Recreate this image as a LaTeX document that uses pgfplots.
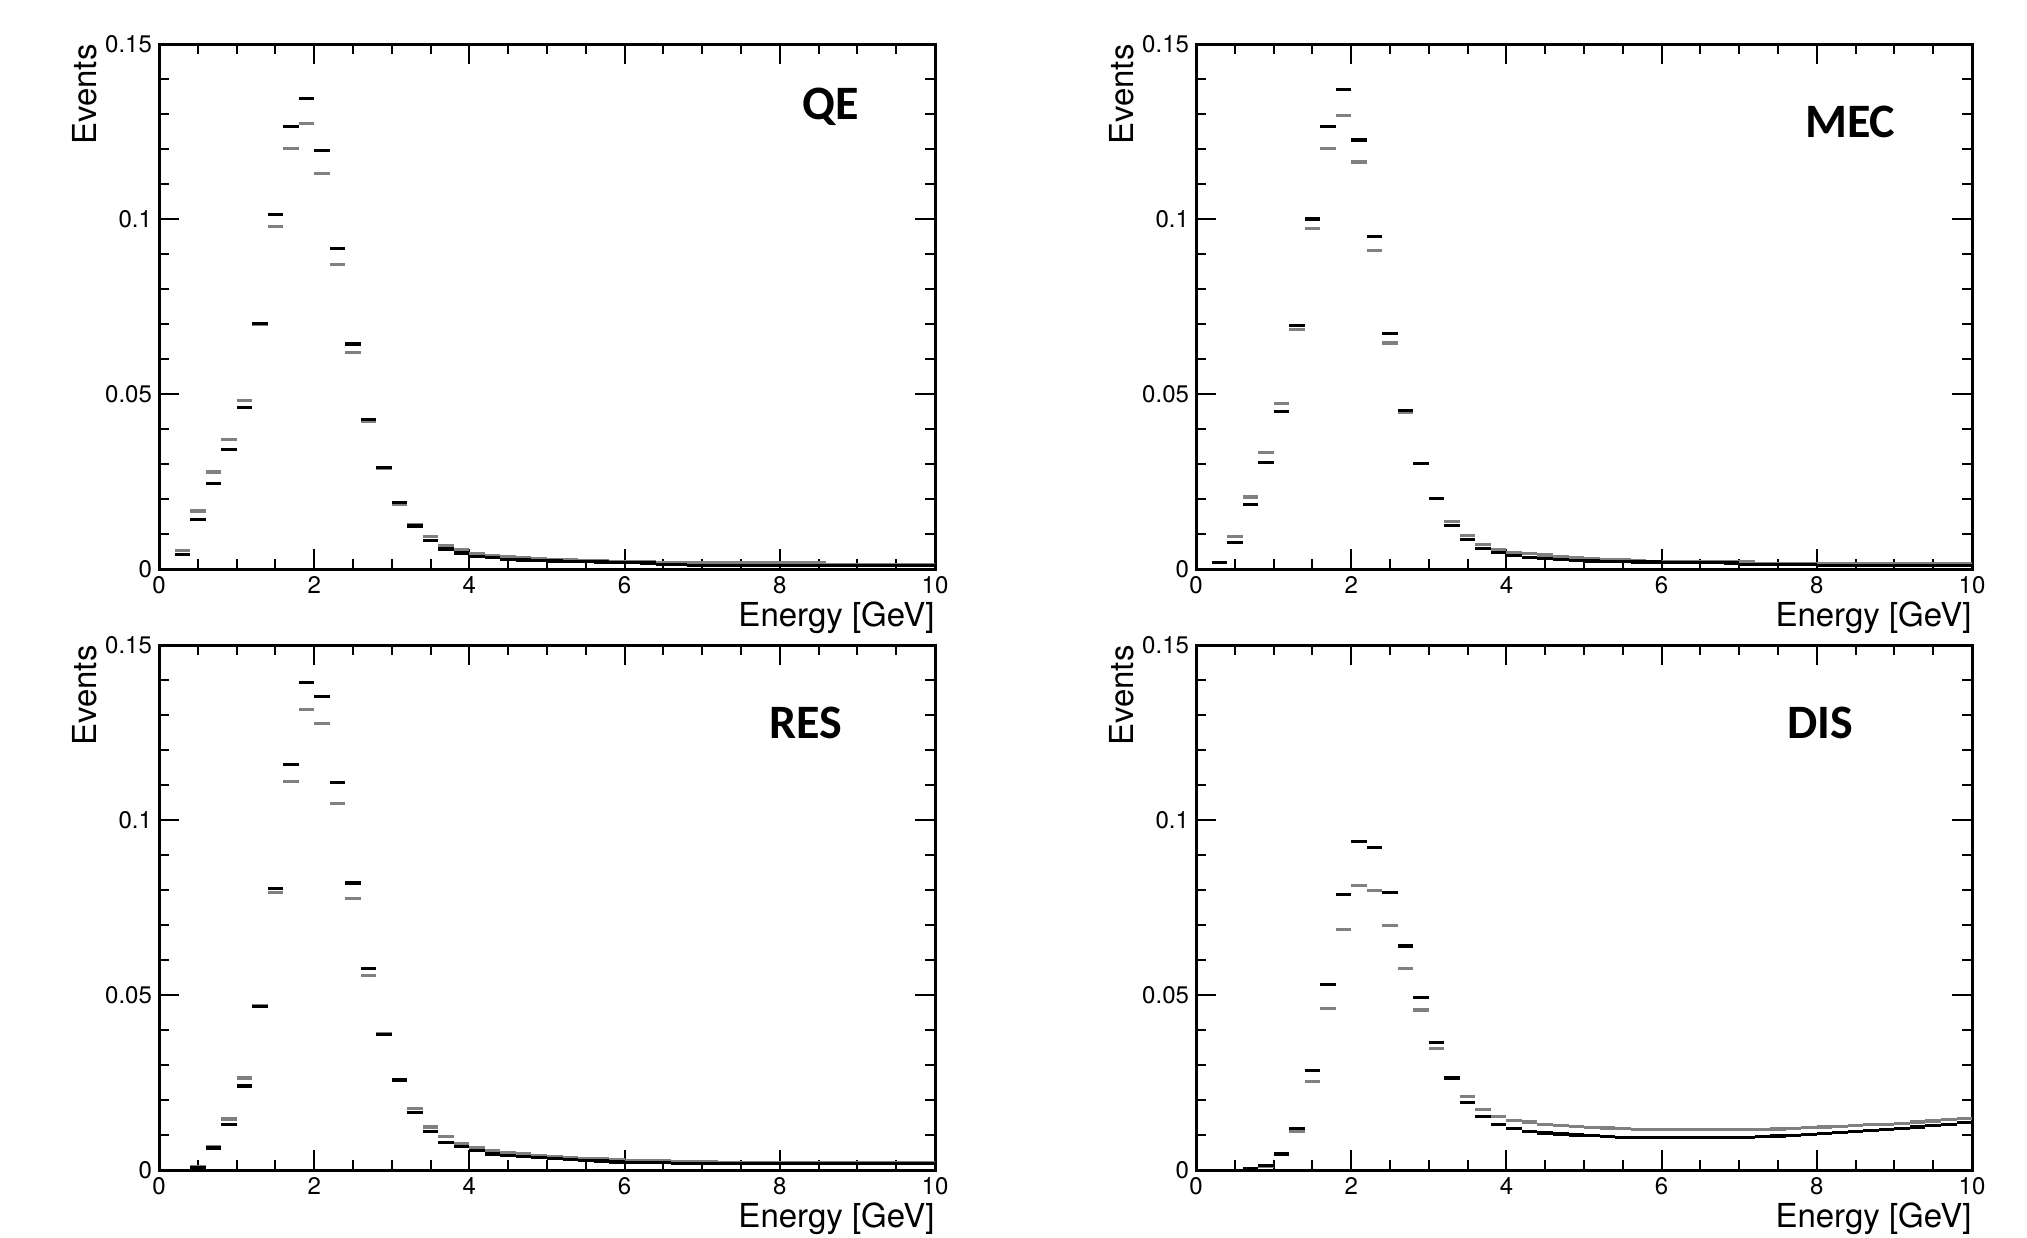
\documentclass[border=0pt]{standalone}
\usepackage{fontspec}
\setmainfont{TeX Gyre Heros}
\newfontfamily\titlefont{Carlito}
\usepackage{pgfplots}
\usepackage{pgfplotstable}
\pgfplotsset{compat=1.18}

% x = bin centre (0.2 GeV bins), b = black histogram, g = gray histogram
\pgfplotstableread{
x b g
0.3 .0041 .0053
0.5 .0141 .0166
0.7 .0245 .0277
0.9 .0342 .0370
1.1 .0462 .0482
1.3 .0701 .0699
1.5 .1012 .0979
1.7 .1265 .1201
1.9 .1345 .1273
2.1 .1196 .1129
2.3 .0915 .0870
2.5 .0643 .0619
2.7 .0427 .0422
2.9 .0289 .0287
3.1 .0189 .0186
3.3 .0123 .0127
3.5 .0081 .0092
3.7 .0057 .0068
3.9 .0046 .0055
4.1 .0036 .0044
4.3 .0032 .0039
4.5 .0028 .0035
4.7 .0026 .0032
4.9 .0024 .0030
5.1 .0023 .0028
5.3 .0022 .0026
5.5 .0021 .0025
5.7 .0020 .0024
5.9 .0019 .0022
6.1 .0018 .0021
6.3 .0017 .0020
6.5 .0012 .0019
6.7 .0012 .0018
6.9 .0011 .0018
7.1 .0011 .0017
7.3 .0011 .0017
7.5 .0011 .0017
7.7 .0011 .0017
7.9 .0011 .0017
8.1 .0011 .0017
8.3 .0011 .0017
8.5 .0011 .0017
8.7 .0010 .0012
8.9 .0010 .0012
9.1 .0010 .0012
9.3 .0010 .0012
9.5 .0010 .0012
9.7 .0010 .0012
9.9 .0010 .0012
}\qe

\pgfplotstableread{
x b g
0.3 .0019 .0018
0.5 .0076 .0093
0.7 .0184 .0206
0.9 .0305 .0333
1.1 .0450 .0474
1.3 .0696 .0685
1.5 .1000 .0972
1.7 .1264 .1201
1.9 .1369 .1295
2.1 .1226 .1163
2.3 .0950 .0911
2.5 .0674 .0646
2.7 .0454 .0447
2.9 .0302 .0302
3.1 .0201 .0201
3.3 .0125 .0136
3.5 .0085 .0096
3.7 .0059 .0070
3.9 .0048 .0055
4.1 .0039 .0047
4.3 .0034 .0044
4.5 .0031 .0040
4.7 .0028 .0036
4.9 .0025 .0032
5.1 .0023 .0030
5.3 .0021 .0028
5.5 .0021 .0026
5.7 .0020 .0024
5.9 .0020 .0022
6.1 .0018 .0020
6.3 .0018 .0020
6.5 .0018 .0020
6.7 .0018 .0020
6.9 .0017 .0020
7.1 .0012 .0020
7.3 .0012 .0016
7.5 .0012 .0016
7.7 .0012 .0016
7.9 .0012 .0016
8.1 .0011 .0016
8.3 .0011 .0016
8.5 .0011 .0016
8.7 .0011 .0016
8.9 .0011 .0016
9.1 .0011 .0016
9.3 .0011 .0016
9.5 .0011 .0016
9.7 .0011 .0016
9.9 .0011 .0016
}\mec

\pgfplotstableread{
x b g
0.5 .0008 .0010
0.7 .0063 .0067
0.9 .0130 .0146
1.1 .0240 .0263
1.3 .0467 .0471
1.5 .0804 .0793
1.7 .1159 .1111
1.9 .1393 .1316
2.1 .1352 .1276
2.3 .1107 .1047
2.5 .0820 .0776
2.7 .0575 .0555
2.9 .0388 .0390
3.1 .0257 .0259
3.3 .0164 .0175
3.5 .0110 .0123
3.7 .0078 .0095
3.9 .0067 .0076
4.1 .0055 .0065
4.3 .0046 .0056
4.5 .0041 .0050
4.7 .0038 .0046
4.9 .0035 .0042
5.1 .0032 .0039
5.3 .0030 .0036
5.5 .0028 .0034
5.7 .0026 .0032
5.9 .0023 .0030
6.1 .0022 .0028
6.3 .0022 .0027
6.5 .0021 .0026
6.7 .0018 .0024
6.9 .0018 .0024
7.1 .0018 .0024
7.3 .0018 .0020
7.5 .0018 .0020
7.7 .0018 .0020
7.9 .0018 .0020
8.1 .0018 .0020
8.3 .0018 .0020
8.5 .0018 .0020
8.7 .0018 .0020
8.9 .0018 .0020
9.1 .0018 .0020
9.3 .0018 .0020
9.5 .0018 .0020
9.7 .0018 .0020
9.9 .0018 .0020
}\res

\pgfplotstableread{
x b g
0.7 .0003 .0002
0.9 .0014 .0010
1.1 .0046 .0046
1.3 .0118 .0109
1.5 .0285 .0254
1.7 .0529 .0462
1.9 .0788 .0687
2.1 .0939 .0813
2.3 .0921 .0799
2.5 .0792 .0699
2.7 .0640 .0576
2.9 .0494 .0457
3.1 .0365 .0348
3.3 .0263 .0263
3.5 .0192 .0209
3.7 .0152 .0172
3.9 .0130 .0152
4.1 .0119 .0142
4.3 .0111 .0137
4.5 .0106 .0131
4.7 .0103 .0127
4.9 .0100 .0124
5.1 .0098 .0122
5.3 .0096 .0120
5.5 .0094 .0118
5.7 .0093 .0116
5.9 .0092 .0115
6.1 .0092 .0115
6.3 .0092 .0115
6.5 .0092 .0115
6.7 .0092 .0115
6.9 .0092 .0115
7.1 .0093 .0115
7.3 .0095 .0116
7.5 .0097 .0117
7.7 .0099 .0119
7.9 .0101 .0121
8.1 .0104 .0123
8.3 .0107 .0125
8.5 .0110 .0127
8.7 .0113 .0129
8.9 .0116 .0131
9.1 .0119 .0134
9.3 .0123 .0137
9.5 .0127 .0140
9.7 .0131 .0144
9.9 .0135 .0148
}\dis

\pgfplotsset{
  rootpad/.style={
    width=388pt, height=262.5pt, scale only axis,
    anchor=north west,
    xmin=0, xmax=10, ymin=0, ymax=0.15,
    xtick={0,2,...,10},
    ytick={0,0.05,0.1,0.15}, yticklabels={0,0.05,0.1,0.15},
    minor x tick num=3, minor y tick num=4,
    tick align=inside,
    major tick length=10pt, minor tick length=5pt,
    every tick/.style={line width=1pt, black},
    axis line style={line width=1.5pt},
    tick label style={font=\fontsize{12}{14}\selectfont},
    /pgf/number format/assume math mode=true,
    xlabel={Energy [GeV]},
    ylabel={Events},
    label style={font=\fontsize{16.5}{18}\selectfont, inner sep=0pt},
    xlabel style={at={(axis description cs:1,0)}, anchor=north east, yshift=-16pt},
    ylabel style={at={(axis description cs:-0.080,1)}, anchor=south east},
  },
  % one horizontal dash per 0.2 GeV bin
  hgr/.style={draw=none, mark=none, error bars/.cd, x dir=both, x fixed=0.1,
    error mark=none, error bar style={draw=black!50, line width=1.6pt}},
  hbk/.style={draw=none, mark=none, error bars/.cd, x dir=both, x fixed=0.1,
    error mark=none, error bar style={draw=black, line width=1.6pt}},
}
\tikzset{ptitle/.style={anchor=base, font=\titlefont\bfseries\fontsize{24}{28}\selectfont}}

\begin{document}
\begin{tikzpicture}
\path[use as bounding box] (0,0) rectangle (1013.5pt,-618.5pt);

% QE
\begin{axis}[rootpad, at={(79.5pt,-22pt)}]
  \addplot[hgr] table[x=x, y=g] {\qe};
  \addplot[hbk] table[x=x, y=b] {\qe};
  \node[ptitle] at (axis description cs:0.865,0.857) {QE};
\end{axis}

% MEC
\begin{axis}[rootpad, at={(598pt,-22pt)}]
  \addplot[hgr] table[x=x, y=g] {\mec};
  \addplot[hbk] table[x=x, y=b] {\mec};
  \node[ptitle] at (axis description cs:0.843,0.821) {MEC};
\end{axis}

% RES
\begin{axis}[rootpad, at={(79.5pt,-322.5pt)}]
  \addplot[hgr] table[x=x, y=g] {\res};
  \addplot[hbk] table[x=x, y=b] {\res};
  \node[ptitle] at (axis description cs:0.834,0.821) {RES};
\end{axis}

% DIS
\begin{axis}[rootpad, at={(598pt,-322.5pt)}]
  \addplot[hgr] table[x=x, y=g] {\dis};
  \addplot[hbk] table[x=x, y=b] {\dis};
  \node[ptitle] at (axis description cs:0.804,0.821) {DIS};
\end{axis}
\end{tikzpicture}
\end{document}
